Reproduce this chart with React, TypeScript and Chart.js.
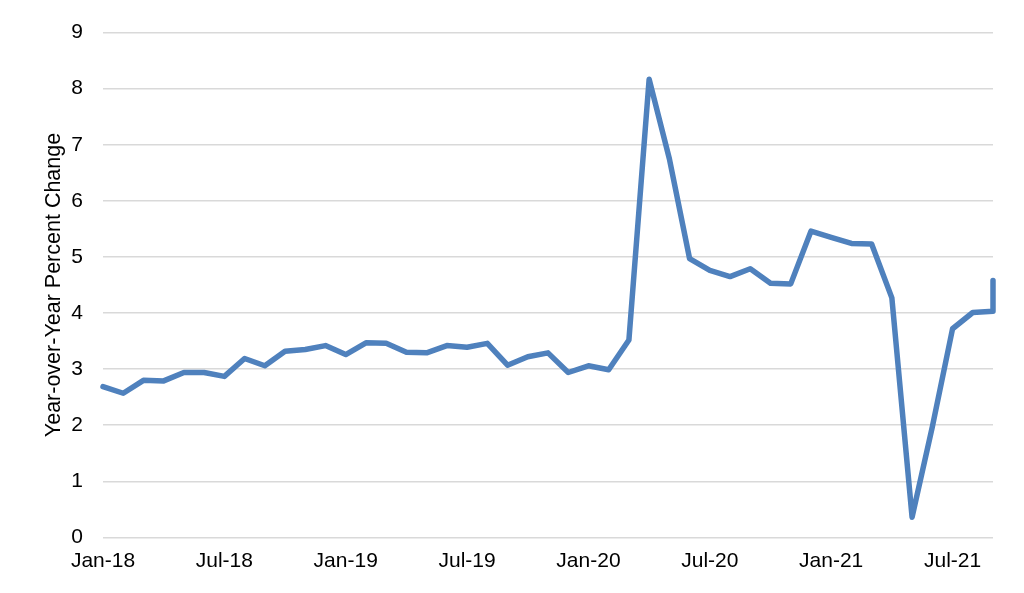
import React, { useEffect, useRef } from "react";
import { Chart, registerables } from "chart.js";

Chart.register(...registerables);

const months: string[] = [
  "Jan-18", "Feb-18", "Mar-18", "Apr-18", "May-18", "Jun-18", "Jul-18", "Aug-18", "Sep-18", "Oct-18", "Nov-18", "Dec-18",
  "Jan-19", "Feb-19", "Mar-19", "Apr-19", "May-19", "Jun-19", "Jul-19", "Aug-19", "Sep-19", "Oct-19", "Nov-19", "Dec-19",
  "Jan-20", "Feb-20", "Mar-20", "Apr-20", "May-20", "Jun-20", "Jul-20", "Aug-20", "Sep-20", "Oct-20", "Nov-20", "Dec-20",
  "Jan-21", "Feb-21", "Mar-21", "Apr-21", "May-21", "Jun-21", "Jul-21", "Aug-21", "Sep-21",
];

const yoyChange: number[] = [
  2.69, 2.57, 2.80, 2.79, 2.94, 2.94, 2.87, 3.19, 3.06, 3.32, 3.35, 3.42,
  3.26, 3.47, 3.46, 3.30, 3.29, 3.42, 3.39, 3.46, 3.07, 3.22, 3.29, 2.94,
  3.06, 2.99, 3.52, 8.17, 6.75, 4.97, 4.76, 4.65, 4.79, 4.53, 4.52, 5.46,
  5.35, 5.24, 5.23, 4.27, 0.36, 1.97, 3.72, 4.01, 4.03,
];

// Final partial reading plotted at the last month
const latestLabel = "Sep-21";
const latestValue = 4.58;

const tickLabels: string[] = ["Jan-18", "Jul-18", "Jan-19", "Jul-19", "Jan-20", "Jul-20", "Jan-21", "Jul-21"];
const yTicks: number[] = [0, 1, 2, 3, 4, 5, 6, 7, 8, 9];

const FONT = "'Liberation Sans', Arial, sans-serif";

export default function App() {
  const ref = useRef<HTMLCanvasElement | null>(null);

  useEffect(() => {
    document.body.style.margin = "0";
    if (!ref.current) return;
    const points = yoyChange.map((v, i) => ({ x: i, y: v }));
    points.push({ x: months.indexOf(latestLabel), y: latestValue });

    const chart = new Chart(ref.current, {
      type: "line",
      data: {
        datasets: [
          {
            label: "Year-over-Year Percent Change",
            data: points,
            borderColor: "#4F81BD",
            backgroundColor: "#4F81BD",
            borderWidth: 5.5,
            borderJoinStyle: "round",
            borderCapStyle: "round",
            pointRadius: 0,
            tension: 0,
            clip: 10,
          },
        ],
      },
      options: {
        animation: false,
        responsive: true,
        maintainAspectRatio: false,
        layout: { padding: { left: 0, right: 31, top: 32, bottom: 0 } },
        plugins: { legend: { display: false }, tooltip: { enabled: false } },
        scales: {
          x: {
            type: "linear",
            min: 0,
            max: months.length - 1,
            grid: { display: false, drawTicks: false },
            border: { display: false },
            afterBuildTicks: (scale: any) => {
              scale.ticks = tickLabels.map((l) => ({ value: months.indexOf(l) }));
            },
            afterFit: (scale: any) => {
              scale.height = 55.6;
            },
            ticks: {
              autoSkip: false,
              maxRotation: 0,
              padding: 11,
              color: "#000",
              font: { family: FONT, size: 21 },
              callback: (v: any) => months[v as number] ?? "",
            },
          },
          y: {
            min: 0,
            max: 9,
            afterBuildTicks: (scale: any) => {
              scale.ticks = yTicks.map((v) => ({ value: v }));
            },
            afterFit: (scale: any) => {
              scale.width = 103;
            },
            grid: { color: "#d9d9d9", lineWidth: 1.5, drawTicks: false },
            border: { display: false },
            ticks: {
              padding: 20,
              color: "#000",
              font: { family: FONT, size: 21 },
            },
            title: {
              display: true,
              text: "Year-over-Year Percent Change",
              color: "#000",
              font: { family: FONT, size: 21.5 },
              padding: { top: 41, bottom: 0 },
            },
          },
        },
      },
    });
    return () => chart.destroy();
  }, []);

  return (
    <div style={{ width: 1024, height: 593, position: "relative", background: "#fff" }}>
      <canvas ref={ref} />
    </div>
  );
}
